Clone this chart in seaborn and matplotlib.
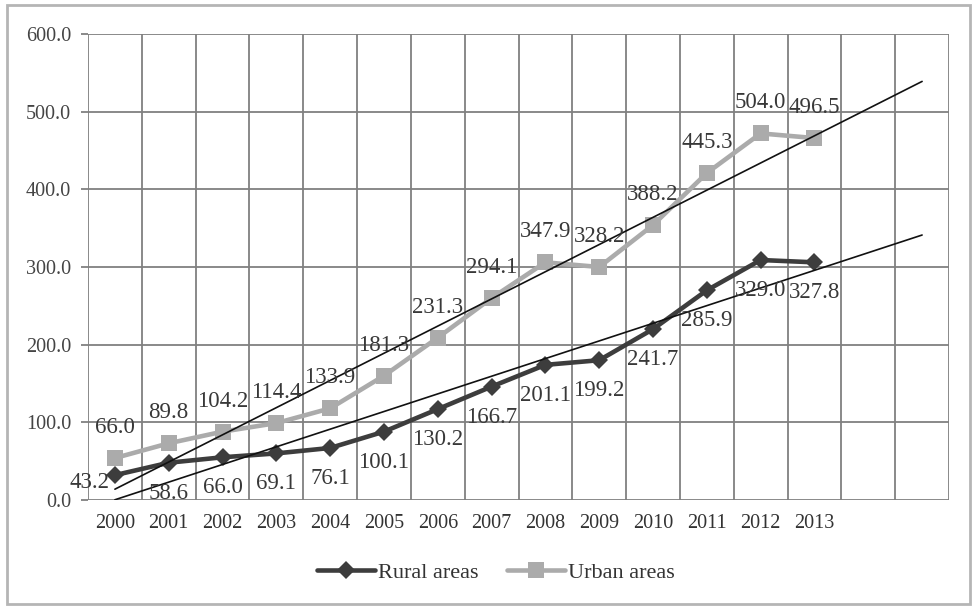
import numpy as np
import pandas as pd
import matplotlib
matplotlib.use("Agg")
import matplotlib.pyplot as plt
import seaborn as sns
from matplotlib.patches import Rectangle

# ---- data ----
years = ["2000", "2001", "2002", "2003", "2004", "2005", "2006",
         "2007", "2008", "2009", "2010", "2011", "2012", "2013"]
rural_values = [32, 48, 55, 60, 67, 88, 117, 146, 174, 180, 220, 270, 309, 306]
urban_values = [54, 73, 88, 99, 118, 160, 209, 260, 306, 300, 354, 421, 472, 466]
rural_labels = ["43.2", "58.6", "66.0", "69.1", "76.1", "100.1", "130.2",
                "166.7", "201.1", "199.2", "241.7", "285.9", "329.0", "327.8"]
urban_labels = ["66.0", "89.8", "104.2", "114.4", "133.9", "181.3", "231.3",
                "294.1", "347.9", "328.2", "388.2", "445.3", "504.0", "496.5"]
forecast_periods = 2
y_ticks = [0, 100, 200, 300, 400, 500, 600]

sns.set_theme(style="white")
plt.rcParams["font.family"] = ["Liberation Serif", "DejaVu Serif"]

fig = plt.figure(figsize=(9.76, 6.06), dpi=100)
ax = fig.add_axes([88 / 976, 1 - 500 / 606, (949 - 88) / 976, (500 - 34) / 606])

n = len(years)
x = np.arange(n)
df = pd.DataFrame({
    "x": np.concatenate([x, x]),
    "value": rural_values + urban_values,
    "series": ["Rural areas"] * n + ["Urban areas"] * n,
})

rural_col = "#3d3d3d"
urban_col = "#ababab"
grid_col = "#808080"

# grid
ax.set_xlim(-0.5, n + forecast_periods - 0.5)
ax.set_ylim(0, 600)
ax.set_yticks(y_ticks)
ax.set_yticklabels([f"{v:.1f}" for v in y_ticks])
ax.set_xticks(x)
ax.set_xticklabels(years)
bounds = np.arange(-0.5, n + forecast_periods, 1.0)
ax.set_xticks(bounds, minor=True)
for b in bounds:
    ax.axvline(b, color=grid_col, lw=1.3, zorder=1)
for t in y_ticks:
    ax.axhline(t, color=grid_col, lw=1.3, zorder=1)
for s in ax.spines.values():
    s.set_visible(False)
ax.tick_params(axis="x", which="major", length=0, pad=10, labelsize=14.5, labelcolor="#333333")
ax.tick_params(axis="x", which="minor", length=5, width=1.3, color=grid_col, direction="out")
ax.tick_params(axis="y", which="major", length=5, width=1.3, color=grid_col, pad=7,
               labelsize=14.5, labelcolor="#444444", left=True)

# series
sns.lineplot(data=df, x="x", y="value", hue="series", style="series",
             palette={"Rural areas": rural_col, "Urban areas": urban_col},
             markers={"Rural areas": "D", "Urban areas": "s"},
             dashes=False, linewidth=3.3,
             markersize=9, markeredgewidth=0, ax=ax, zorder=3, legend=True)
for line in ax.get_lines():
    if line.get_color() == urban_col:
        line.set_markersize(12)

# trendlines (linear, forecast forward)
for vals in (urban_values, rural_values):
    k, b0 = np.polyfit(x + 1, vals, 1)
    xs = np.array([0, n + forecast_periods - 1])
    ax.plot(xs, k * (xs + 1) + b0, color="#111111", lw=1.2, zorder=4)

# data labels
lab_fs = 16.5
for i in range(n):
    ax.annotate(urban_labels[i], (x[i], urban_values[i]), xytext=(0, 22),
                textcoords="offset points", ha="center", va="center",
                fontsize=lab_fs, color="#383838", zorder=5)
    if i == 0:
        ax.annotate(rural_labels[i], (x[i], rural_values[i]), xytext=(-4, -5),
                    textcoords="offset points", ha="right", va="center",
                    fontsize=lab_fs, color="#383838", zorder=5)
    else:
        ax.annotate(rural_labels[i], (x[i], rural_values[i]), xytext=(0, -22),
                    textcoords="offset points", ha="center", va="center",
                    fontsize=lab_fs, color="#383838", zorder=5)

ax.set_xlabel("")
ax.set_ylabel("")

# legend
handles, labels = ax.get_legend_handles_labels()
ax.legend_.remove()
leg = fig.legend(handles[:2], labels[:2], loc="center", ncol=2,
                 bbox_to_anchor=(496 / 976, 1 - 573 / 606), frameon=False,
                 fontsize=16, handlelength=2.6, handletextpad=0.15,
                 columnspacing=1.3)
for t in leg.get_texts():
    t.set_color("#333333")

# chart border
fig.patches.append(Rectangle((7 / 976, 1 - 604 / 606), (970 - 7) / 976, (604 - 5) / 606,
                             transform=fig.transFigure, fill=False,
                             edgecolor="#b5b5b5", lw=2))

fig.savefig("out.png", dpi=100, facecolor="white")
